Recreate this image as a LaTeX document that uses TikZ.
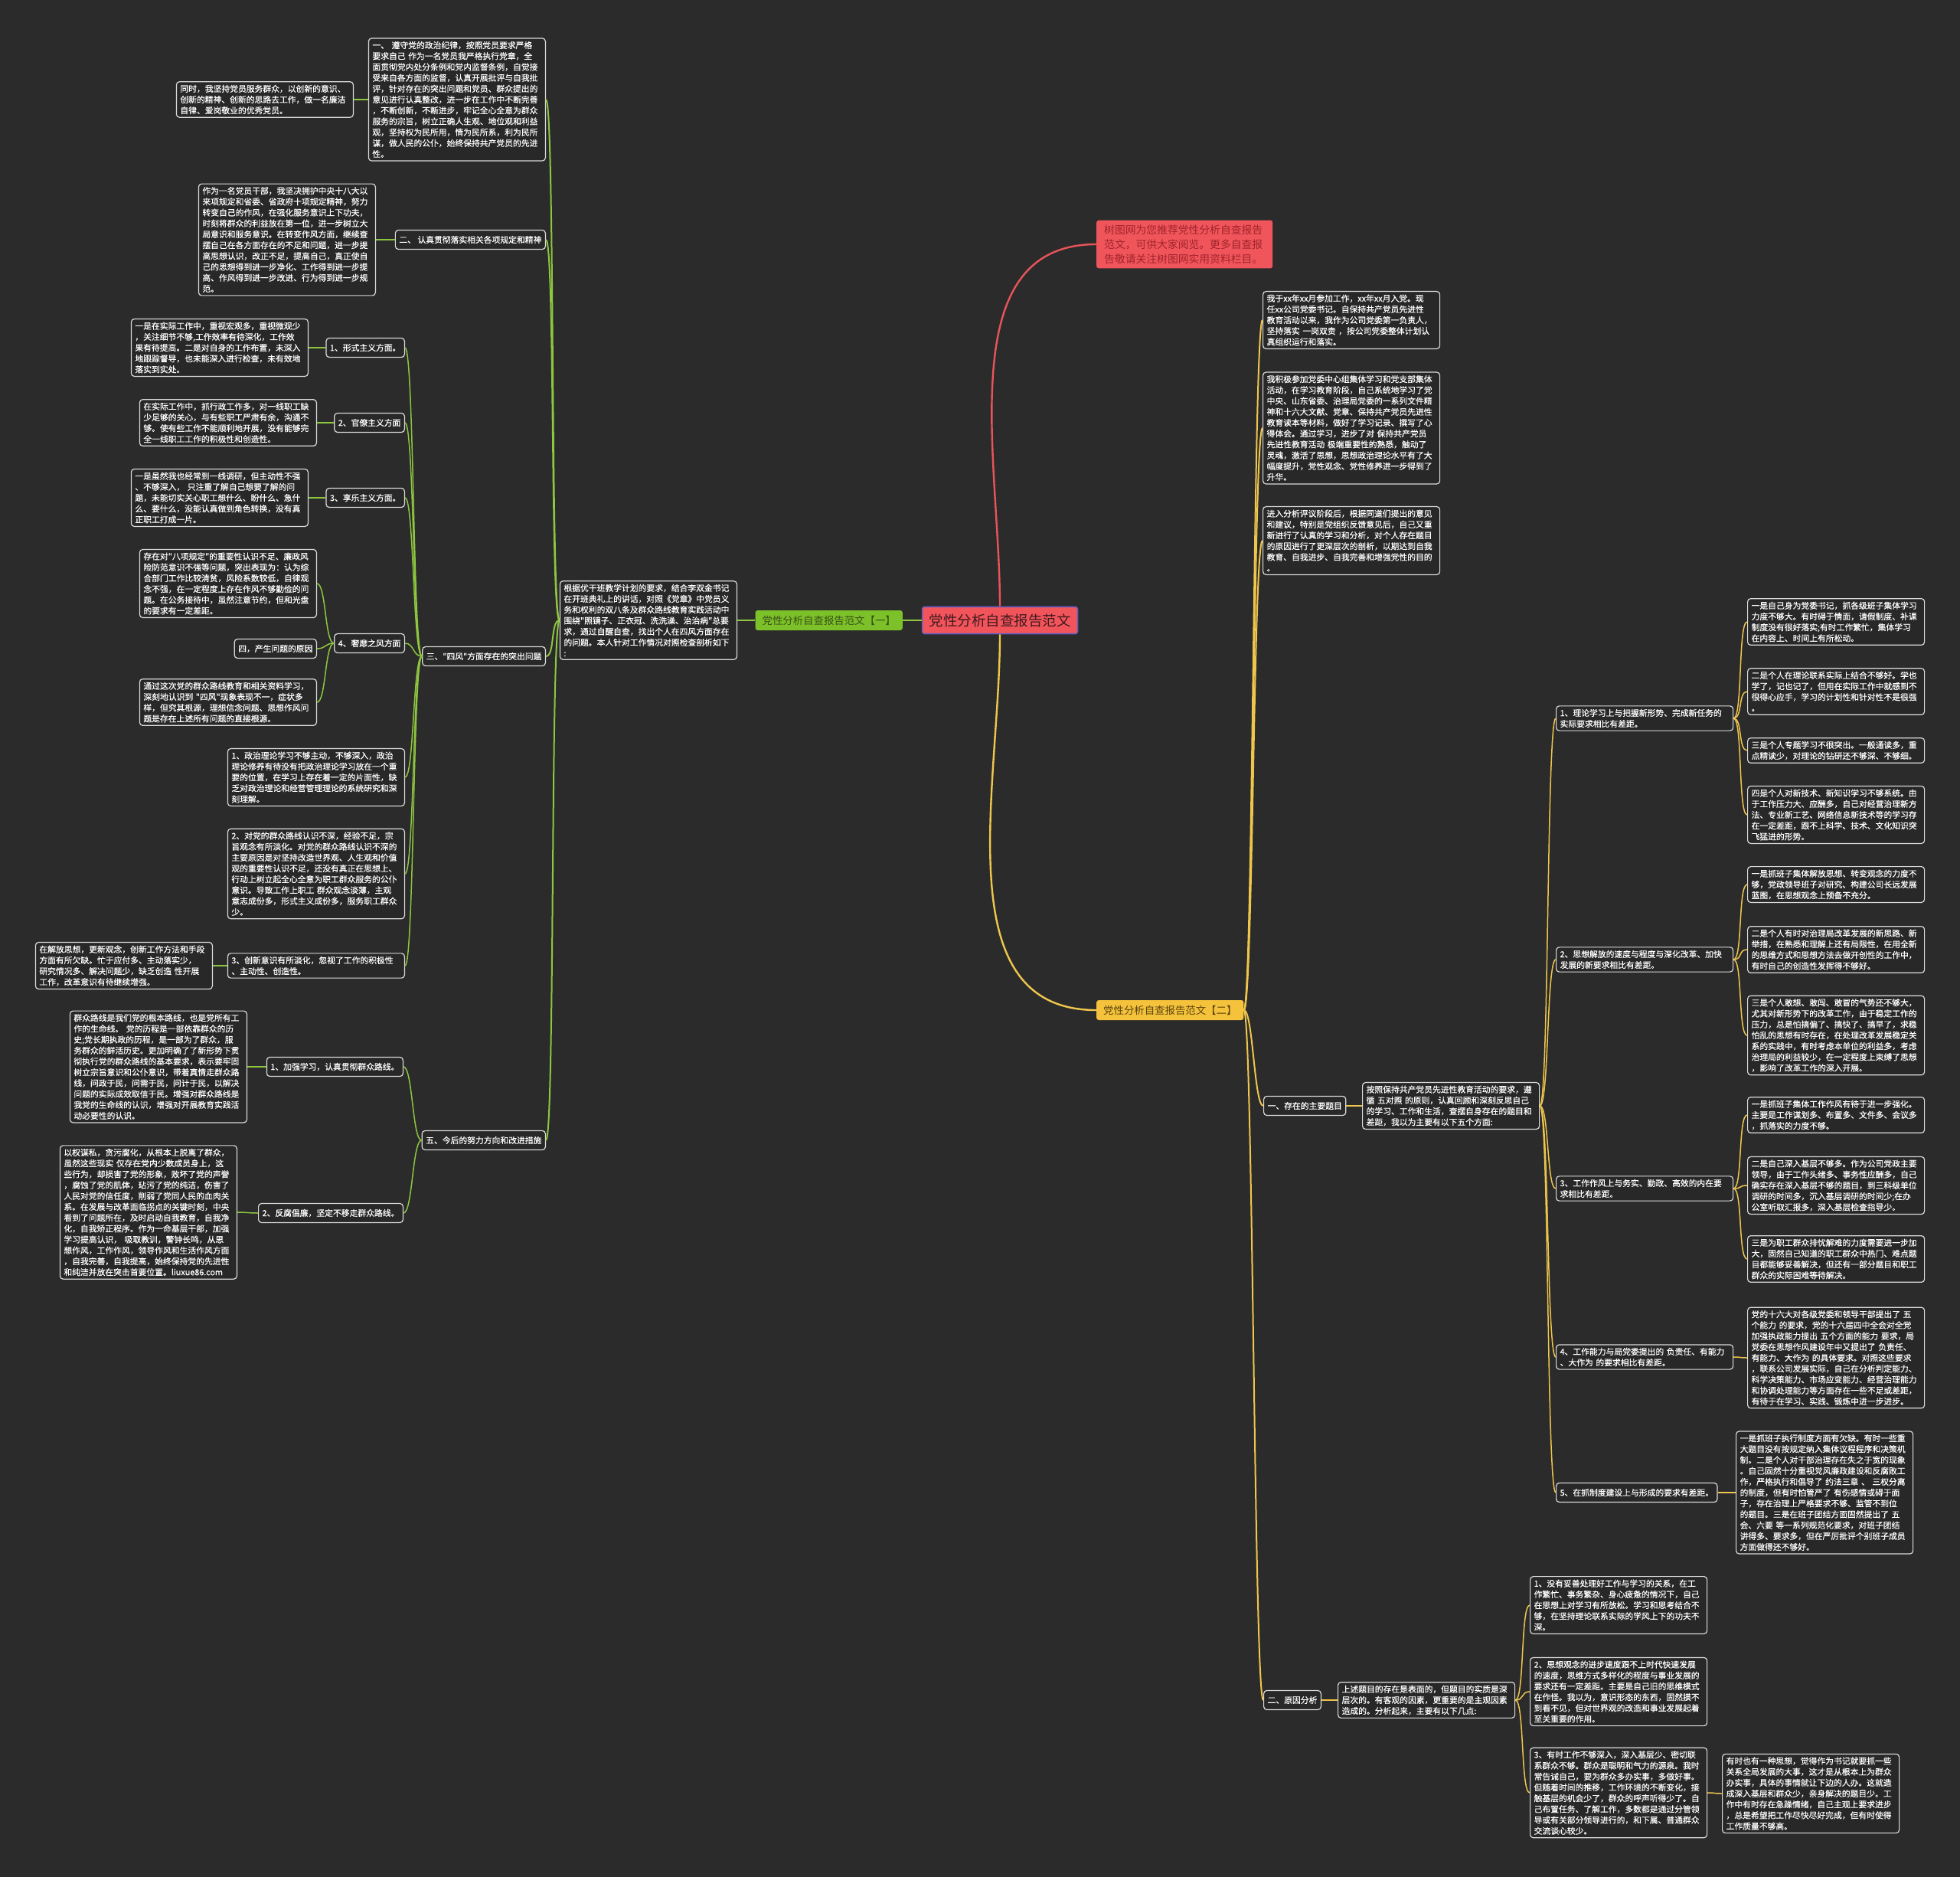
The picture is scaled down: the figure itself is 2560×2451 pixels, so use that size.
\documentclass[tikz,border=0pt]{standalone}
\usepackage{fontspec}
\setmainfont{Noto Sans CJK SC}
\newfontfamily\cjkplain{Noto Sans CJK SC}
\newfontfamily\cjkbold{Noto Sans CJK SC}[FakeBold=0.5]
\usepackage{xcolor}
\usepackage{tikz}
\usetikzlibrary{arrows.meta, positioning, calc}

\definecolor{bgc}{HTML}{2B2B2B}
\definecolor{boxc}{HTML}{282828}
\definecolor{edgec}{HTML}{DADADA}
\definecolor{rootred}{HTML}{F2545B}
\definecolor{rootedge}{HTML}{5B5EC8}
\definecolor{roottext}{HTML}{3E1A1E}
\definecolor{memored}{HTML}{F0555B}
\definecolor{memotext}{HTML}{A1232B}
\definecolor{linkred}{HTML}{E8545A}
\definecolor{leafgreen}{HTML}{7CC12A}
\definecolor{greentext}{HTML}{3A5214}
\definecolor{linkgreen}{HTML}{8DC63F}
\definecolor{leafyellow}{HTML}{F4C23B}
\definecolor{yellowtext}{HTML}{5C4510}
\definecolor{linkyellow}{HTML}{EFC64C}

\newcommand{\rootfont}{\cjkplain\fontsize{18.5pt}{22pt}\selectfont}
\newcommand{\partfont}{\cjkplain\fontsize{13.4pt}{16pt}\selectfont}
\newcommand{\memofont}{\cjkplain\fontsize{13.8pt}{19pt}\selectfont}
\newcommand{\blkfont}{\cjkbold\fontsize{10.8pt}{14.2pt}\selectfont}

\begin{document}
\begin{tikzpicture}[x=1pt, y=-1pt,
  blk/.style={draw=edgec, fill=boxc, line width=1.2pt, rounded corners=4pt, text=white,
    font=\blkfont, align=left, text width=221pt, inner xsep=5pt, inner ysep=4pt},
  tag/.style={draw=edgec, fill=boxc, line width=1.2pt, rounded corners=4pt, text=white,
    font=\blkfont, inner xsep=5pt, inner ysep=5pt, minimum height=25pt},
  partbox/.style={rounded corners=3pt, font=\partfont, inner xsep=9pt, inner ysep=5pt, minimum height=26pt},
  memo/.style={fill=memored, text=memotext, font=\memofont, rounded corners=3pt, align=left,
    text width=210pt, inner xsep=10pt, inner ysep=6pt},
  glink/.style={draw=linkgreen, line width=1.5pt},
  ylink/.style={draw=linkyellow, line width=1.5pt},
  fanl/.style={out=180, in=0, distance=12pt},
  fanr/.style={out=0, in=180, distance=12pt}]

  \useasboundingbox (0,0) rectangle (2560,2451);
  \fill[bgc] (0,0) rectangle (2560,2451);

  % centre
  \node[fill=rootred, draw=rootedge, line width=1.5pt, rounded corners=3pt, text=roottext,
    font=\rootfont, inner xsep=9pt, inner ysep=9pt] (root) at (1306,810) {党性分析自查报告范文};

  % red note
  \node[memo, anchor=west] (memo) at (1432,319) {树图网为您推荐党性分析自查报告\\范文，可供大家阅览。更多自查报\\告敬请关注树图网实用资料栏目。};
  \draw[draw=linkred, line width=2.4pt] (root.north) to[out=90, in=180] (memo.west);

  % left branch
  \node[partbox, fill=leafgreen, text=greentext, anchor=east] (partA) at (1179,810) {党性分析自查报告范文【一】};
  \draw[glink, line width=2.4pt] (root.west) -- (partA.east);

  \node[blk, anchor=east] (intro) at (963,810) {根据优干班教学计划的要求，结合李双金书记\\在开班典礼上的讲话，对照《党章》中党员义\\务和权利的双八条及群众路线教育实践活动中\\围绕"照镜子、正衣冠、洗洗澡、治治病"总要\\求，通过自醒自查，找出个人在四风方面存在\\的问题。本人针对工作情况对照检查剖析如下\\:};
  \draw[glink, line width=2pt] (partA.west) -- (intro.east);

  \node[blk, anchor=east] (disc) at (713,130) {一、 遵守党的政治纪律，按照党员要求严格\\要求自己 作为一名党员我严格执行党章，全\\面贯彻党内处分条例和党内监督条例，自觉接\\受来自各方面的监督，认真开展批评与自我批\\评，针对存在的突出问题和党员、群众提出的\\意见进行认真整改，进一步在工作中不断完善\\，不断创新，不断进步，牢记全心全意为群众\\服务的宗旨，树立正确人生观、地位观和利益\\观，坚持权为民所用，情为民所系，利为民所\\谋，做人民的公仆，始终保持共产党员的先进\\性。};
  \node[blk, anchor=east] (discx) at (462,130) {同时，我坚持党员服务群众，以创新的意识、\\创新的精神、创新的思路去工作，做一名廉洁\\自律、爱岗敬业的优秀党员。};

  \node[tag, anchor=east] (rules) at (713,313) {二、 认真贯彻落实相关各项规定和精神};
  \node[blk, anchor=east] (rulesx) at (491,313) {作为一名党员干部，我坚决拥护中央十八大以\\来项规定和省委、省政府十项规定精神，努力\\转变自己的作风，在强化服务意识上下功夫，\\时刻将群众的利益放在第一位，进一步树立大\\局意识和服务意识。在转变作风方面，继续查\\摆自己在各方面存在的不足和问题，进一步提\\高思想认识，改正不足，提高自己，真正使自\\己的思想得到进一步净化、工作得到进一步提\\高、作风得到进一步改进、行为得到进一步规\\范。};

  \node[tag, anchor=east] (winds) at (713,857) {三、"四风"方面存在的突出问题};
  \node[tag, anchor=east] (form) at (529,454) {1、形式主义方面。};
  \node[blk, anchor=east] (formx) at (403,454) {一是在实际工作中，重视宏观多，重视微观少\\，关注细节不够,工作效率有待深化，工作效\\果有待提高。二是对自身的工作布置，未深入\\地跟踪督导，也未能深入进行检查，未有效地\\落实到实处。};
  \node[tag, anchor=east] (bureau) at (529,552) {2、官僚主义方面};
  \node[blk, anchor=east] (bureaux) at (414,552) {在实际工作中，抓行政工作多，对一线职工缺\\少足够的关心，与有些职工严肃有余，沟通不\\够。使有些工作不能顺利地开展，没有能够完\\全一线职工工作的积极性和创造性。};
  \node[tag, anchor=east] (hedon) at (529,650) {3、享乐主义方面。};
  \node[blk, anchor=east] (hedonx) at (403,650) {一是虽然我也经常到一线调研，但主动性不强\\、不够深入， 只注重了解自己想要了解的问\\题，未能切实关心职工想什么、盼什么、急什\\么、要什么，没能认真做到角色转换，没有真\\正职工打成一片。};
  \node[tag, anchor=east] (lux) at (529,840) {4、奢靡之风方面};
  \node[blk, anchor=east] (luxa) at (414,762) {存在对"八项规定"的重要性认识不足、廉政风\\险防范意识不强等问题，突出表现为：认为综\\合部门工作比较清贫，风险系数较低，自律观\\念不强，在一定程度上存在作风不够勤俭的问\\题。在公务接待中，虽然注意节约，但和光盘\\的要求有一定差距。};
  \node[tag, anchor=east] (luxb) at (414,847) {四，产生问题的原因};
  \node[blk, anchor=east] (luxc) at (414,917) {通过这次党的群众路线教育和相关资料学习，\\深刻地认识到 "四风"现象表现不一，症状多\\样，但究其根源，理想信念问题、思想作风问\\题是存在上述所有问题的直接根源。};
  \node[blk, anchor=east] (theory) at (529,1015) {1、政治理论学习不够主动，不够深入，政治\\理论修养有待没有把政治理论学习放在一个重\\要的位置，在学习上存在着一定的片面性，缺\\乏对政治理论和经营管理理论的系统研究和深\\刻理解。};
  \node[blk, anchor=east] (mass) at (529,1141) {2、对党的群众路线认识不深，经验不足，宗\\旨观念有所淡化。对党的群众路线认识不深的\\主要原因是对坚持改造世界观、人生观和价值\\观的重要性认识不足，还没有真正在思想上、\\行动上树立起全心全意为职工群众服务的公仆\\意识。导致工作上职工 群众观念淡薄，主观\\意志成份多，形式主义成份多，服务职工群众\\少。};
  \node[blk, anchor=east] (innov) at (529,1261) {3、创新意识有所淡化，忽视了工作的积极性\\、主动性、创造性。};
  \node[blk, anchor=east] (innovx) at (278,1261) {在解放思想，更新观念，创新工作方法和手段\\方面有所欠缺。忙于应付多、主动落实少，\\研究情况多、解决问题少，缺乏创造 性开展\\工作，改革意识有待继续增强。};

  \node[tag, anchor=east] (plan) at (713,1489) {五、今后的努力方向和改进措施};
  \node[tag, anchor=east] (study) at (527,1393) {1、加强学习，认真贯彻群众路线。};
  \node[blk, anchor=east] (studyx) at (323,1393) {群众路线是我们党的根本路线，也是党所有工\\作的生命线。 党的历程是一部依靠群众的历\\史;党长期执政的历程，是一部为了群众，服\\务群众的鲜活历史。更加明确了了新形势下贯\\彻执行党的群众路线的基本要求，表示要牢固\\树立宗旨意识和公仆意识，带着真情走群众路\\线，问政于民，问需于民，问计于民，以解决\\问题的实际成效取信于民。增强对群众路线是\\我党的生命线的认识，增强对开展教育实践活\\动必要性的认识。};
  \node[tag, anchor=east] (clean) at (527,1584) {2、反腐倡廉，坚定不移走群众路线。};
  \node[blk, anchor=east] (cleanx) at (310,1583) {以权谋私，贪污腐化，从根本上脱离了群众，\\虽然这些现实 仅存在党内少数成员身上，这\\些行为，却损害了党的形象，败坏了党的声誉\\，腐蚀了党的肌体，玷污了党的纯洁，伤害了\\人民对党的信任度，削弱了党同人民的血肉关\\系。在发展与改革面临拐点的关键时刻，中央\\看到了问题所在，及时启动自我教育，自我净\\化，自我矫正程序。作为一命基层干部，加强\\学习提高认识， 吸取教训，警钟长鸣，从思\\想作风，工作作风，领导作风和生活作风方面\\，自我完善，自我提高，始终保持党的先进性\\和纯洁并放在突击首要位置。liuxue86.com};

  % left links
  \draw[glink, line width=2pt] (intro.west) to[fanl] (disc.east);
  \draw[glink, line width=2pt] (intro.west) to[fanl] (rules.east);
  \draw[glink, line width=2pt] (intro.west) to[fanl] (winds.east);
  \draw[glink, line width=2pt] (intro.west) to[fanl] (plan.east);
  \draw[glink] (disc.west) to[fanl] (discx.east);
  \draw[glink] (rules.west) to[fanl] (rulesx.east);
  \draw[glink] (winds.west) to[fanl] (form.east);
  \draw[glink] (winds.west) to[fanl] (bureau.east);
  \draw[glink] (winds.west) to[fanl] (hedon.east);
  \draw[glink] (winds.west) to[fanl] (lux.east);
  \draw[glink] (winds.west) to[fanl] (theory.east);
  \draw[glink] (winds.west) to[fanl] (mass.east);
  \draw[glink] (winds.west) to[fanl] (innov.east);
  \draw[glink] (form.west) to[fanl] (formx.east);
  \draw[glink] (bureau.west) to[fanl] (bureaux.east);
  \draw[glink] (hedon.west) to[fanl] (hedonx.east);
  \draw[glink] (lux.west) to[fanl] (luxa.east);
  \draw[glink] (lux.west) to[fanl] (luxb.east);
  \draw[glink] (lux.west) to[fanl] (luxc.east);
  \draw[glink] (innov.west) to[fanl] (innovx.east);
  \draw[glink] (plan.west) to[fanl] (study.east);
  \draw[glink] (plan.west) to[fanl] (clean.east);
  \draw[glink] (study.west) to[fanl] (studyx.east);
  \draw[glink] (clean.west) to[fanl] (cleanx.east);

  % right branch
  \node[partbox, fill=leafyellow, text=yellowtext, anchor=west] (partB) at (1432,1319) {党性分析自查报告范文【二】};
  \draw[ylink, line width=2.4pt] (root.south) to[out=-90, in=180] (partB.west);

  \node[blk, anchor=west] (joined) at (1649,418) {我于xx年xx月参加工作，xx年xx月入党。现\\任xx公司党委书记。自保持共产党员先进性\\教育活动以来，我作为公司党委第一负责人，\\坚持落实 一岗双责 ，按公司党委整体计划认\\真组织运行和落实。};
  \node[blk, anchor=west] (learned) at (1649,559) {我积极参加党委中心组集体学习和党支部集体\\活动，在学习教育阶段，自己系统地学习了党\\中央、山东省委、治理局党委的一系列文件精\\神和十六大文献、党章、保持共产党员先进性\\教育读本等材料，做好了学习记录、撰写了心\\得体会。通过学习，进步了对 保持共产党员\\先进性教育活动 极端重要性的熟悉，触动了\\灵魂，激活了思想，思想政治理论水平有了大\\幅度提升，党性观念、党性修养进一步得到了\\升华。};
  \node[blk, anchor=west] (review) at (1649,706) {进入分析评议阶段后，根据同道们提出的意见\\和建议，特别是党组织反馈意见后，自己又重\\新进行了认真的学习和分析，对个人存在题目\\的原因进行了更深层次的剖析，以期达到自我\\教育、自我进步、自我完善和增强党性的目的\\。};

  \node[tag, anchor=west] (issues) at (1650,1444) {一、存在的主要题目};
  \node[blk, anchor=west] (issuesx) at (1779,1444) {按照保持共产党员先进性教育活动的要求，遵\\循 五对照 的原则，认真回顾和深刻反思自己\\的学习、工作和生活，查摆自身存在的题目和\\差距，我以为主要有以下五个方面:};

  \node[blk, anchor=west] (gap1) at (2032,938) {1、理论学习上与把握新形势、完成新任务的\\实际要求相比有差距。};
  \node[blk, anchor=west] (gap1a) at (2282,812) {一是自己身为党委书记，抓各级班子集体学习\\力度不够大。有时碍于情面，请假制度、补课\\制度没有很好落实;有时工作繁忙，集体学习\\在内容上、时间上有所松动。};
  \node[blk, anchor=west] (gap1b) at (2282,903) {二是个人在理论联系实际上结合不够好。学也\\学了，记也记了，但用在实际工作中就感到不\\很得心应手，学习的计划性和针对性不是很强\\。};
  \node[blk, anchor=west] (gap1c) at (2282,980) {三是个人专题学习不很突出。一般通读多，重\\点精读少，对理论的钻研还不够深、不够细。};
  \node[blk, anchor=west] (gap1d) at (2282,1064) {四是个人对新技术、新知识学习不够系统。由\\于工作压力大、应酬多，自己对经营治理新方\\法、专业新工艺、网络信息新技术等的学习存\\在一定差距，跟不上科学、技术、文化知识突\\飞猛进的形势。};

  \node[blk, anchor=west] (gap2) at (2032,1253) {2、思想解放的速度与程度与深化改革、加快\\发展的新要求相比有差距。};
  \node[blk, anchor=west] (gap2a) at (2282,1155) {一是抓班子集体解放思想、转变观念的力度不\\够，党政领导班子对研究、构建公司长远发展\\蓝图，在思想观念上预备不充分。};
  \node[blk, anchor=west] (gap2b) at (2282,1240) {二是个人有时对治理局改革发展的新思路、新\\举措，在熟悉和理解上还有局限性，在用全新\\的思维方式和思想方法去做开创性的工作中，\\有时自己的创造性发挥得不够好。};
  \node[blk, anchor=west] (gap2c) at (2282,1352) {三是个人敢想、敢闯、敢冒的气势还不够大，\\尤其对新形势下的改革工作，由于稳定工作的\\压力，总是怕搞偏了、搞快了、搞早了，求稳\\怕乱的思想有时存在，在处理改革发展稳定关\\系的实践中，有时考虑本单位的利益多，考虑\\治理局的利益较少，在一定程度上束缚了思想\\，影响了改革工作的深入开展。};

  \node[blk, anchor=west] (gap3) at (2032,1552) {3、工作作风上与务实、勤政、高效的内在要\\求相比有差距。};
  \node[blk, anchor=west] (gap3a) at (2282,1456) {一是抓班子集体工作作风有待于进一步强化。\\主要是工作谋划多、布置多、文件多、会议多\\，抓落实的力度不够。};
  \node[blk, anchor=west] (gap3b) at (2282,1548) {二是自己深入基层不够多。作为公司党政主要\\领导，由于工作头绪多、事务性应酬多，自己\\确实存在深入基层不够的题目，到三科级单位\\调研的时间多，沉入基层调研的时间少;在办\\公室听取汇报多，深入基层检查指导少。};
  \node[blk, anchor=west] (gap3c) at (2282,1644) {三是为职工群众排忧解难的力度需要进一步加\\大，固然自己知道的职工群众中热门、难点题\\目都能够妥善解决，但还有一部分题目和职工\\群众的实际困难等待解决。};

  \node[blk, anchor=west] (gap4) at (2032,1772) {4、工作能力与局党委提出的 负责任、有能力\\、大作为 的要求相比有差距。};
  \node[blk, anchor=west] (gap4a) at (2282,1773) {党的十六大对各级党委和领导干部提出了 五\\个能力 的要求，党的十六届四中全会对全党\\加强执政能力提出 五个方面的能力 要求，局\\党委在思想作风建设年中又提出了 负责任、\\有能力、大作为 的具体要求。对照这些要求\\，联系公司发展实际，自己在分析判定能力、\\科学决策能力、市场应变能力、经营治理能力\\和协调处理能力等方面存在一些不足或差距，\\有待于在学习、实践、锻炼中进一步进步。};

  \node[tag, anchor=west] (gap5) at (2032,1949) {5、在抓制度建设上与形成的要求有差距。};
  \node[blk, anchor=west] (gap5a) at (2267,1949) {一是抓班子执行制度方面有欠缺。有时一些重\\大题目没有按规定纳入集体议程程序和决策机\\制。二是个人对干部治理存在失之于宽的现象\\。自己固然十分重视党风廉政建设和反腐败工\\作，严格执行和倡导了 约法三章 、 三权分离\\ 的制度，但有时怕管严了 有伤感情或碍于面\\子，存在治理上严格要求不够、监管不到位\\的题目。三是在班子团结方面固然提出了 五\\会、六要 等一系列规范化要求，对班子团结\\讲得多、要求多，但在严厉批评个别班子成员\\方面做得还不够好。};

  \node[tag, anchor=west] (cause) at (1650,2220) {二、原因分析};
  \node[blk, anchor=west] (causex) at (1747,2220) {上述题目的存在是表面的，但题目的实质是深\\层次的。有客观的因素，更重要的是主观因素\\造成的。分析起来，主要有以下几点:};
  \node[blk, anchor=west] (cause1) at (1998,2096) {1、没有妥善处理好工作与学习的关系，在工\\作繁忙、事务繁杂、身心疲惫的情况下，自己\\在思想上对学习有所放松。学习和思考结合不\\够，在坚持理论联系实际的学风上下的功夫不\\深。};
  \node[blk, anchor=west] (cause2) at (1998,2209) {2、思想观念的进步速度跟不上时代快速发展\\的速度，思维方式多样化的程度与事业发展的\\要求还有一定差距。主要是自己旧的思维模式\\在作怪。我以为，意识形态的东西，固然摸不\\到看不见，但对世界观的改造和事业发展起着\\至关重要的作用。};
  \node[blk, anchor=west] (cause3) at (1998,2341) {3、有时工作不够深入，深入基层少、密切联\\系群众不够。群众是聪明和气力的源泉。我时\\常告诫自己，要为群众多办实事，多做好事。\\但随着时间的推移，工作环境的不断变化，接\\触基层的机会少了，群众的呼声听得少了。自\\己布置任务、了解工作，多数都是通过分管领\\导或有关部分领导进行的，和下属、普通群众\\交流谈心较少。};
  \node[blk, anchor=west] (cause3x) at (2249,2342) {有时也有一种思想，觉得作为书记就要抓一些\\关系全局发展的大事，这才是从根本上为群众\\办实事，具体的事情就让下边的人办。这就造\\成深入基层和群众少，亲身解决的题目少。工\\作中有时存在急躁情绪，自己主观上要求进步\\，总是希望把工作尽快尽好完成，但有时使得\\工作质量不够高。};

  % right links
  \draw[ylink, line width=2pt] (partB.east) to[fanr] (joined.west);
  \draw[ylink, line width=2pt] (partB.east) to[fanr] (learned.west);
  \draw[ylink, line width=2pt] (partB.east) to[fanr] (review.west);
  \draw[ylink, line width=2pt] (partB.east) to[fanr] (issues.west);
  \draw[ylink, line width=2pt] (partB.east) to[fanr] (cause.west);
  \draw[ylink] (issues.east) to[fanr] (issuesx.west);
  \draw[ylink] (issuesx.east) to[fanr] (gap1.west);
  \draw[ylink] (issuesx.east) to[fanr] (gap2.west);
  \draw[ylink] (issuesx.east) to[fanr] (gap3.west);
  \draw[ylink] (issuesx.east) to[fanr] (gap4.west);
  \draw[ylink] (issuesx.east) to[fanr] (gap5.west);
  \draw[ylink] (gap1.east) to[fanr] (gap1a.west);
  \draw[ylink] (gap1.east) to[fanr] (gap1b.west);
  \draw[ylink] (gap1.east) to[fanr] (gap1c.west);
  \draw[ylink] (gap1.east) to[fanr] (gap1d.west);
  \draw[ylink] (gap2.east) to[fanr] (gap2a.west);
  \draw[ylink] (gap2.east) to[fanr] (gap2b.west);
  \draw[ylink] (gap2.east) to[fanr] (gap2c.west);
  \draw[ylink] (gap3.east) to[fanr] (gap3a.west);
  \draw[ylink] (gap3.east) to[fanr] (gap3b.west);
  \draw[ylink] (gap3.east) to[fanr] (gap3c.west);
  \draw[ylink] (gap4.east) to[fanr] (gap4a.west);
  \draw[ylink] (gap5.east) to[fanr] (gap5a.west);
  \draw[ylink] (cause.east) to[fanr] (causex.west);
  \draw[ylink] (causex.east) to[fanr] (cause1.west);
  \draw[ylink] (causex.east) to[fanr] (cause2.west);
  \draw[ylink] (causex.east) to[fanr] (cause3.west);
  \draw[ylink] (cause3.east) to[fanr] (cause3x.west);
\end{tikzpicture}
\end{document}
